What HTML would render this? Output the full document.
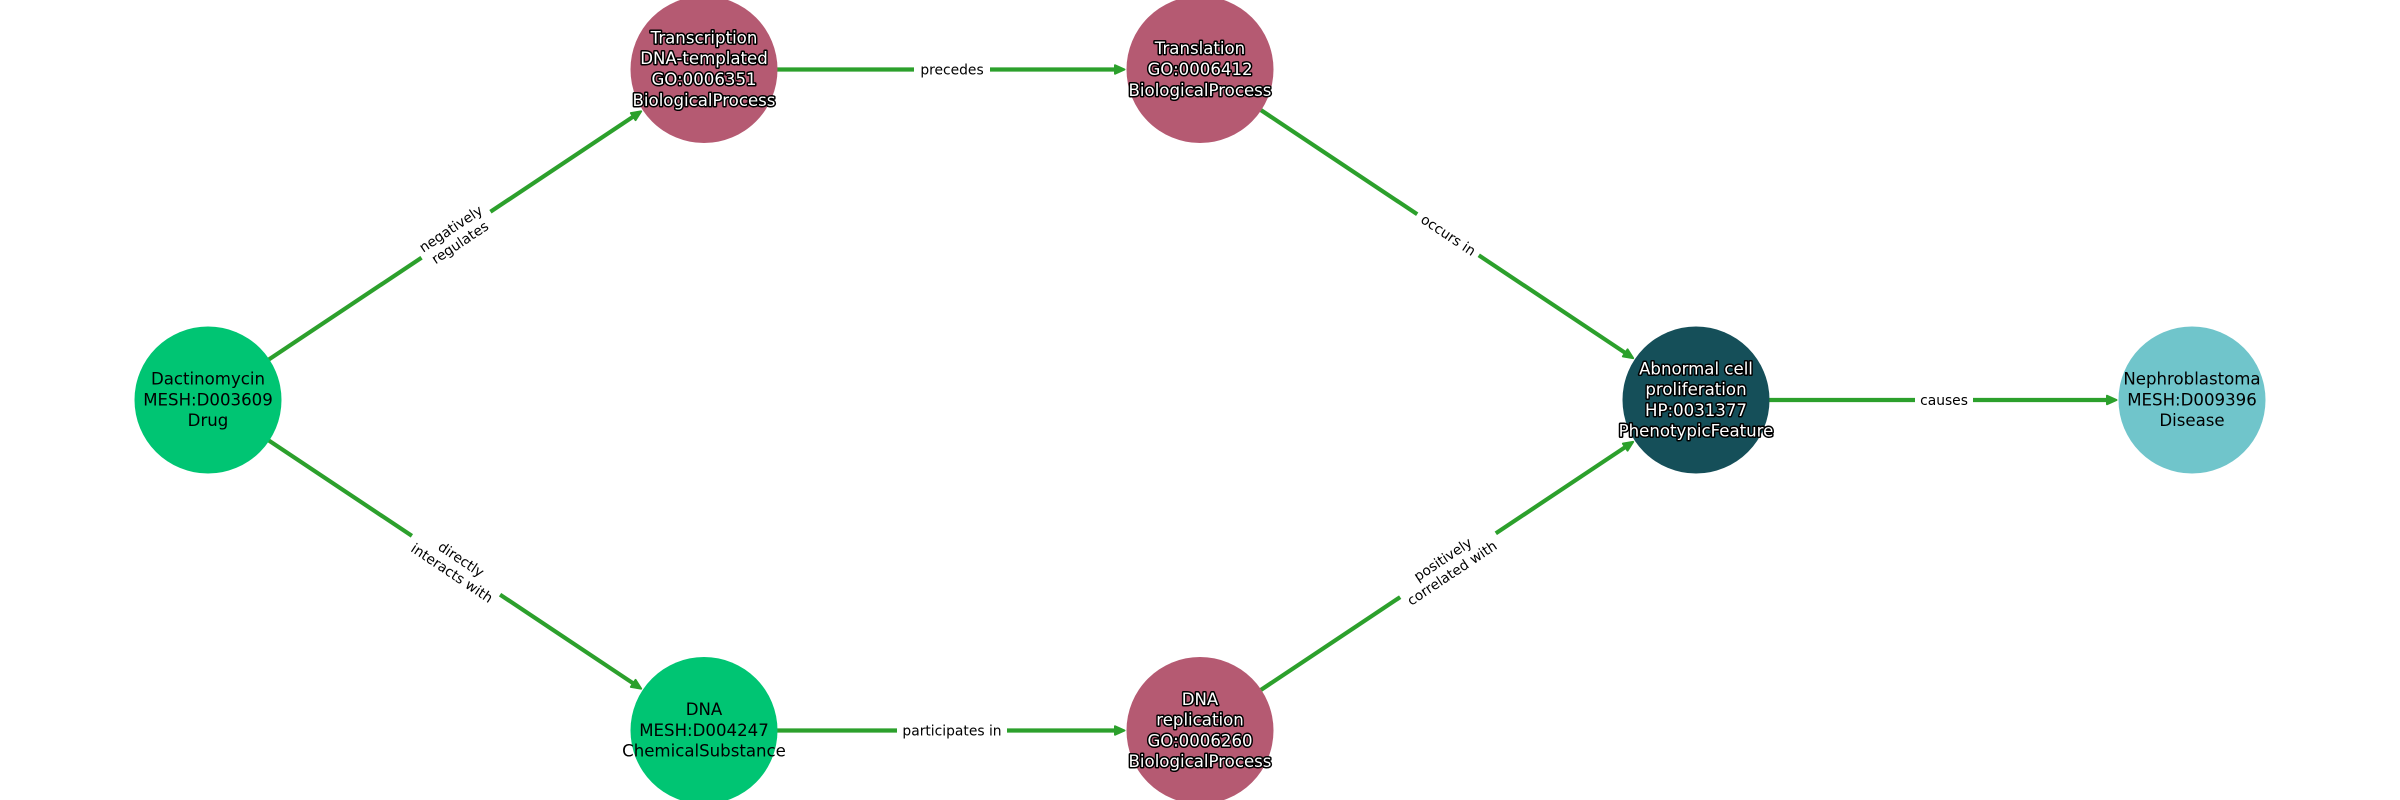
<!DOCTYPE html>
<html>
<head>
<meta charset="utf-8">
<style>
html,body{margin:0;padding:0;background:#fff;width:2400px;height:800px;overflow:hidden}
svg{display:block}
text{font-family:"DejaVu Sans",sans-serif;text-anchor:middle}
.n{font-size:16.6px;fill:#000}
.w{font-size:16.6px;fill:#fff;stroke:#000;stroke-width:3px;stroke-linejoin:round;paint-order:stroke}
.e{font-size:13.85px;fill:#000}
.l{stroke:#2ca02c;stroke-width:4.17;fill:none}
.h{fill:#2ca02c;stroke:#2ca02c;stroke-width:2;stroke-linejoin:round}
</style>
</head>
<body>
<svg width="2400" height="800" viewBox="0 0 2400 800" xmlns="http://www.w3.org/2000/svg">
<rect width="2400" height="800" fill="#fff"/>

<!-- edges -->
<g transform="translate(208,400) rotate(-33.68)">
  <line class="l" x1="0" y1="0" x2="512" y2="0"/><path class="h" d="M520.5 0L511 -4.2L511 4.2Z"/>
  <rect x="256.6" y="-20" width="82.8" height="40" fill="#fff"/>
  <text class="e" x="297" y="-3">negatively</text><text class="e" x="297" y="13.5">regulates</text>
</g>
<g transform="translate(208,400) rotate(33.68)">
  <line class="l" x1="0" y1="0" x2="512" y2="0"/><path class="h" d="M520.5 0L511 -4.2L511 4.2Z"/>
  <rect x="245" y="-20" width="106" height="40" fill="#fff"/>
  <text class="e" x="299" y="-3">directly</text><text class="e" x="299" y="13.5">interacts with</text>
</g>
<g transform="translate(704,69.5)">
  <line class="l" x1="0" y1="0" x2="412" y2="0"/><path class="h" d="M420.5 0L411 -4.2L411 4.2Z"/>
  <rect x="210" y="-12" width="76" height="24" fill="#fff"/>
  <text class="e" x="248" y="4.8">precedes</text>
</g>
<g transform="translate(704,730.5)">
  <line class="l" x1="0" y1="0" x2="412" y2="0"/><path class="h" d="M420.5 0L411 -4.2L411 4.2Z"/>
  <rect x="193" y="-12" width="110" height="24" fill="#fff"/>
  <text class="e" x="248" y="4.8">participates in</text>
</g>
<g transform="translate(1200,69.5) rotate(33.68)">
  <line class="l" x1="0" y1="0" x2="512" y2="0"/><path class="h" d="M520.5 0L511 -4.2L511 4.2Z"/>
  <rect x="261" y="-12" width="74" height="24" fill="#fff"/>
  <text class="e" x="298.5" y="4.8">occurs in</text>
</g>
<g transform="translate(1200,730.5) rotate(-33.68)">
  <line class="l" x1="0" y1="0" x2="512" y2="0"/><path class="h" d="M520.5 0L511 -4.2L511 4.2Z"/>
  <rect x="240.5" y="-20" width="115" height="40" fill="#fff"/>
  <text class="e" x="297" y="-3">positively</text><text class="e" x="297" y="13.5">correlated with</text>
</g>
<g transform="translate(1696,400)">
  <line class="l" x1="0" y1="0" x2="412" y2="0"/><path class="h" d="M420.5 0L411 -4.2L411 4.2Z"/>
  <rect x="219" y="-12" width="58" height="24" fill="#fff"/>
  <text class="e" x="248" y="4.8">causes</text>
</g>

<!-- nodes -->
<circle cx="208" cy="400" r="73.5" fill="#00c573"/>
<circle cx="704" cy="69.5" r="73.5" fill="#b55a72"/>
<circle cx="1200" cy="69.5" r="73.5" fill="#b55a72"/>
<circle cx="704" cy="730.5" r="73.5" fill="#00c573"/>
<circle cx="1200" cy="730.5" r="73.5" fill="#b55a72"/>
<circle cx="1696" cy="400" r="73.5" fill="#154f59"/>
<circle cx="2192" cy="400" r="73.5" fill="#70c5cb"/>

<!-- node labels -->
<text class="n" x="208" y="384.5">Dactinomycin</text>
<text class="n" x="208" y="405.5">MESH:D003609</text>
<text class="n" x="208" y="426">Drug</text>

<text class="w" x="704" y="43.5">Transcription</text>
<text class="w" x="704" y="64">DNA-templated</text>
<text class="w" x="704" y="85">GO:0006351</text>
<text class="w" x="704" y="106">BiologicalProcess</text>

<text class="w" x="1200" y="54">Translation</text>
<text class="w" x="1200" y="75">GO:0006412</text>
<text class="w" x="1200" y="96">BiologicalProcess</text>

<text class="n" x="704" y="715">DNA</text>
<text class="n" x="704" y="736">MESH:D004247</text>
<text class="n" x="704" y="756.5">ChemicalSubstance</text>

<text class="w" x="1200" y="705">DNA</text>
<text class="w" x="1200" y="725.5">replication</text>
<text class="w" x="1200" y="746.5">GO:0006260</text>
<text class="w" x="1200" y="767">BiologicalProcess</text>

<text class="w" x="1696" y="374.5">Abnormal cell</text>
<text class="w" x="1696" y="395">proliferation</text>
<text class="w" x="1696" y="416">HP:0031377</text>
<text class="w" x="1696" y="436.5">PhenotypicFeature</text>

<text class="n" x="2192" y="384.5">Nephroblastoma</text>
<text class="n" x="2192" y="405.5">MESH:D009396</text>
<text class="n" x="2192" y="426">Disease</text>
</svg>
</body>
</html>
